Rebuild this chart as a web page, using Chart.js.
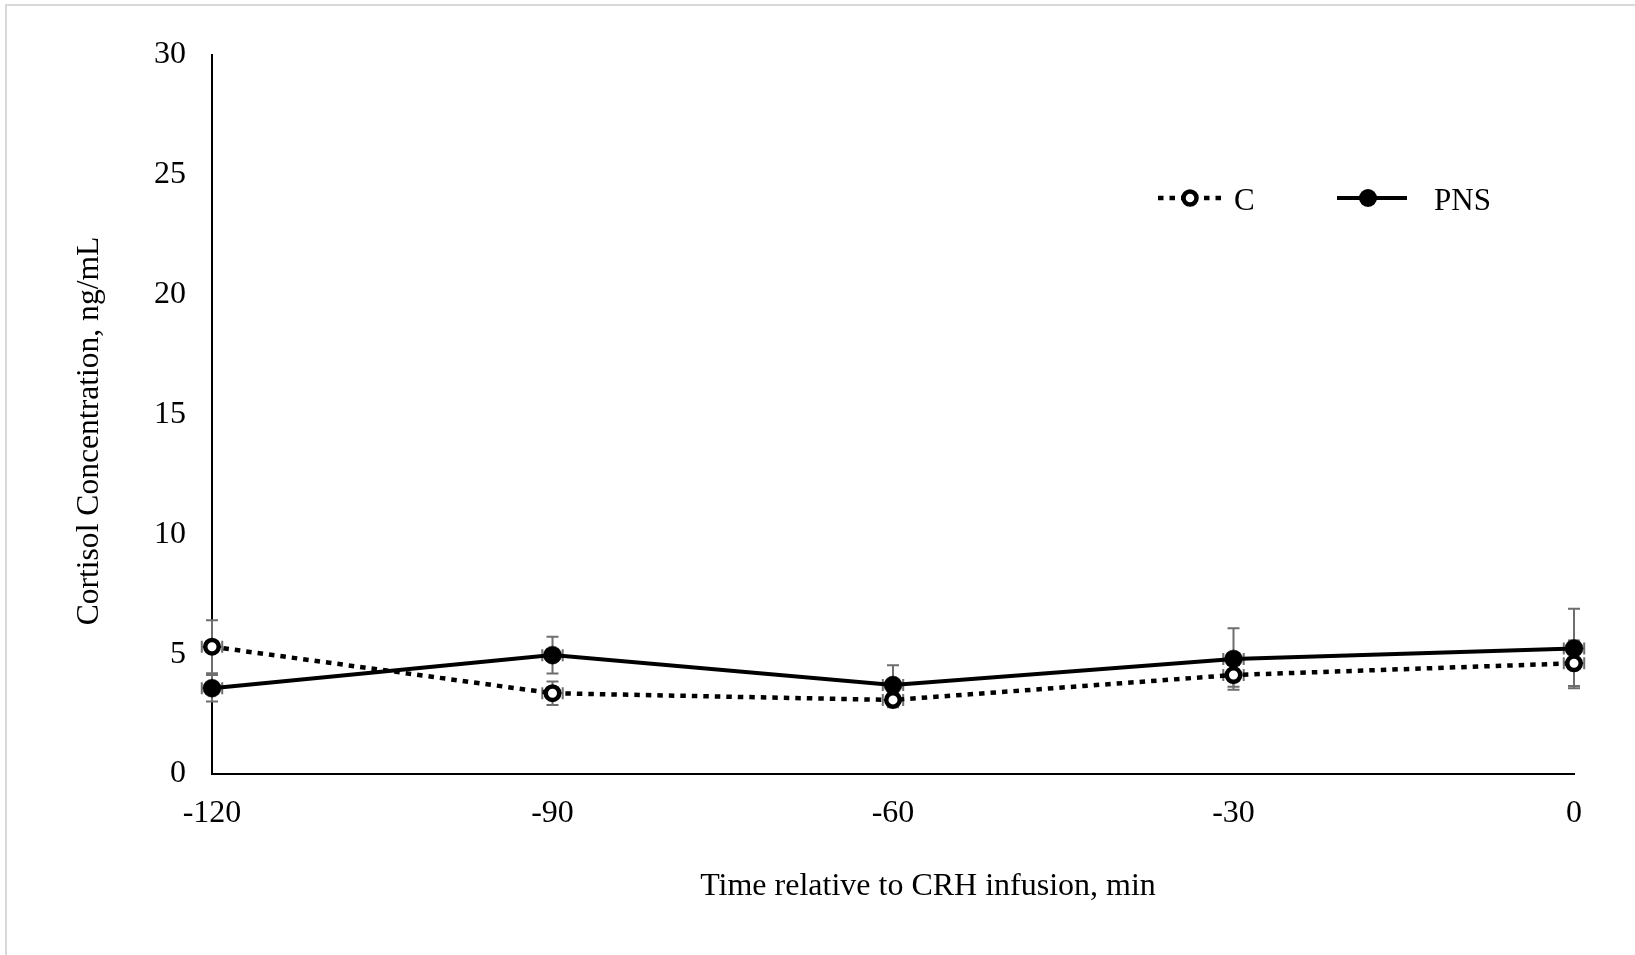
<!DOCTYPE html>
<html>
<head>
<meta charset="utf-8">
<script src="https://cdn.jsdelivr.net/npm/chart.js@4.4.1/dist/chart.umd.min.js"></script>
<style>
  html, body { margin: 0; padding: 0; background: #ffffff; }
  #wrap { position: relative; width: 1635px; height: 955px; overflow: hidden; }
  #frame { position: absolute; left: 5px; top: 4px; width: 1640px; height: 960px; border-left: 2px solid #d9d9d9; border-top: 2px solid #d9d9d9; box-sizing: border-box; }
  canvas { position: absolute; left: 0; top: 0; }
</style>
</head>
<body>
<div id="wrap">
  <div id="frame"></div>
  <canvas id="c" width="1635" height="955"></canvas>
</div>
<script>
// ---- data ----
const timePoints = [-120, -90, -60, -30, 0];
const seriesNames = ['C', 'PNS'];
const cValues   = [5.31, 3.37, 3.09, 4.13, 4.62];
const cErrors   = [1.11, 0.49, 0.30, 0.49, 0.95];
const pnsValues = [3.58, 4.96, 3.71, 4.80, 5.24];
const pnsErrors = [0.55, 0.77, 0.83, 1.28, 1.66];
const timeErrors = [0.9, 0.9, 0.9, 0.9, 0.9];
const yTicks = [0, 5, 10, 15, 20, 25, 30];
const xTicks = [-120, -90, -60, -30, 0];
const xTitle = 'Time relative to CRH infusion, min';
const yTitle = 'Cortisol Concentration, ng/mL';

const FONT = '"Liberation Serif", "Times New Roman", serif';

function pts(vals) { return timePoints.map((t, i) => ({ x: t, y: vals[i] })); }

const errorBarPlugin = {
  id: 'errorBars',
  beforeDatasetsDraw(chart) {
    const ctx = chart.ctx;
    const xs = chart.scales.x, ys = chart.scales.y;
    const errs = [cErrors, pnsErrors];
    ctx.save();
    ctx.strokeStyle = '#6e6e6e';
    ctx.lineWidth = 2;
    chart.data.datasets.forEach((ds, di) => {
      ds.data.forEach((p, i) => {
        const px = xs.getPixelForValue(p.x);
        const py = ys.getPixelForValue(p.y);
        const top = ys.getPixelForValue(p.y + errs[di][i]);
        const bot = ys.getPixelForValue(p.y - errs[di][i]);
        const lft = xs.getPixelForValue(p.x - timeErrors[i]);
        const rgt = xs.getPixelForValue(p.x + timeErrors[i]);
        const cap = 6;
        ctx.beginPath();
        ctx.moveTo(px, top); ctx.lineTo(px, bot);
        ctx.moveTo(px - cap, top); ctx.lineTo(px + cap, top);
        ctx.moveTo(px - cap, bot); ctx.lineTo(px + cap, bot);
        ctx.moveTo(lft, py); ctx.lineTo(rgt, py);
        ctx.moveTo(lft, py - cap); ctx.lineTo(lft, py + cap);
        ctx.moveTo(rgt, py - cap); ctx.lineTo(rgt, py + cap);
        ctx.stroke();
      });
    });
    ctx.restore();
  }
};

const decorPlugin = {
  id: 'decor',
  afterDraw(chart) {
    const ctx = chart.ctx;
    ctx.save();
    ctx.fillStyle = '#000';
    // x title
    ctx.font = '32px ' + FONT;
    ctx.textAlign = 'center';
    ctx.textBaseline = 'alphabetic';
    ctx.fillText(xTitle, 928, 895);
    // y title
    ctx.save();
    ctx.translate(98, 431);
    ctx.rotate(-Math.PI / 2);
    ctx.font = '31.6px ' + FONT;
    ctx.fillText(yTitle, 0, 0);
    ctx.restore();
    // legend
    const ly = 198;
    ctx.lineCap = 'butt';
    // C
    ctx.strokeStyle = '#000';
    ctx.lineWidth = 4.5;
    ctx.setLineDash([5.5, 6]);
    ctx.beginPath(); ctx.moveTo(1158, ly); ctx.lineTo(1226, ly); ctx.stroke();
    ctx.setLineDash([]);
    ctx.fillStyle = '#fff';
    ctx.beginPath(); ctx.arc(1190, ly, 6.5, 0, Math.PI * 2); ctx.fill(); ctx.stroke();
    // PNS
    ctx.lineWidth = 4;
    ctx.beginPath(); ctx.moveTo(1337, ly); ctx.lineTo(1407, ly); ctx.stroke();
    ctx.fillStyle = '#000';
    ctx.beginPath(); ctx.arc(1368, ly, 9, 0, Math.PI * 2); ctx.fill();
    ctx.font = '31px ' + FONT;
    ctx.textAlign = 'left';
    ctx.textBaseline = 'alphabetic';
    ctx.fillText(seriesNames[0], 1234, 210);
    ctx.fillText(seriesNames[1], 1434, 210);
    ctx.restore();
  }
};

new Chart(document.getElementById('c'), {
  type: 'line',
  data: {
    datasets: [
      {
        label: seriesNames[0],
        data: pts(cValues),
        borderColor: '#000',
        borderWidth: 4.5,
        borderDash: [5.5, 6],
        borderCapStyle: 'butt',
        pointRadius: 6.75,
        pointBorderWidth: 4.5,
        pointBackgroundColor: '#fff',
        pointBorderColor: '#000',
        tension: 0,
        clip: false
      },
      {
        label: seriesNames[1],
        data: pts(pnsValues),
        borderColor: '#000',
        borderWidth: 4,
        pointRadius: 9,
        pointBorderWidth: 0.5,
        pointBackgroundColor: '#000',
        pointBorderColor: '#000',
        tension: 0,
        clip: false
      }
    ]
  },
  options: {
    responsive: false,
    animation: false,
    devicePixelRatio: 1,
    layout: { padding: { left: 0, top: 55, right: 61, bottom: 0 } },
    plugins: { legend: { display: false }, tooltip: { enabled: false } },
    scales: {
      x: {
        type: 'linear',
        min: -120, max: 0,
        afterBuildTicks(s) { s.ticks = xTicks.map(v => ({ value: v })); },
        afterFit(s) { s.height = 181; },
        grid: { display: false },
        border: { display: true, color: '#000', width: 2 },
        ticks: { color: '#000', padding: 12, font: { family: FONT, size: 32 }, maxRotation: 0, autoSkip: false }
      },
      y: {
        type: 'linear',
        min: 0, max: 30,
        afterBuildTicks(s) { s.ticks = yTicks.map(v => ({ value: v })); },
        afterFit(s) { s.width = 212; },
        grid: { display: false },
        border: { display: true, color: '#000', width: 2 },
        ticks: { color: '#000', padding: 18, font: { family: FONT, size: 32 } }
      }
    }
  },
  plugins: [errorBarPlugin, decorPlugin]
});
</script>
</body>
</html>
